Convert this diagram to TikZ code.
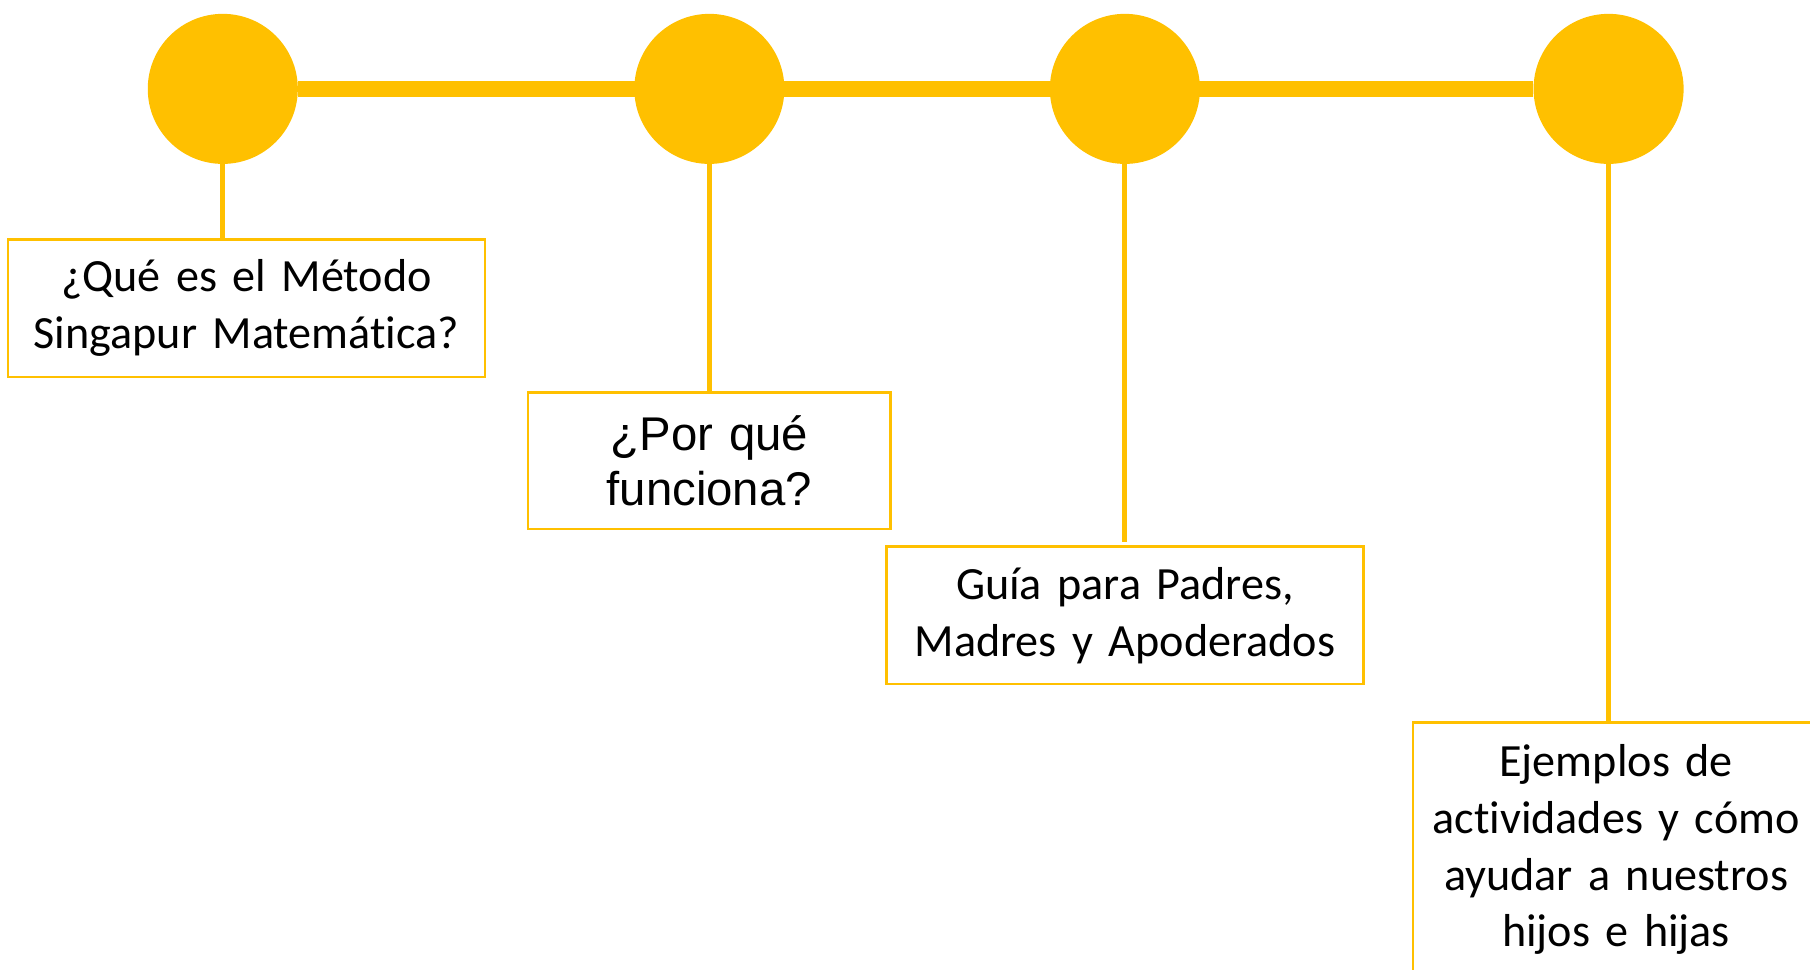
\documentclass[tikz,border=0pt]{standalone}
\usepackage{fontspec}
\setmainfont{Carlito}[Ligatures=NoCommon]
\newfontfamily\arialfont{Liberation Sans}
\usepackage{tikz}
\usetikzlibrary{positioning}
\definecolor{gold}{RGB}{255,192,0}

\begin{document}
\begin{tikzpicture}[x=0.5pt, y=-0.5pt,
    dot/.style={circle, fill=gold, minimum size=65pt, inner sep=0pt},
    topicbox/.style={rectangle, draw=gold, line width=1.15pt, fill=white, align=center, inner sep=0pt,
        font=\fontsize{20}{24.6}\selectfont},
    timeline/.style={gold, line width=7pt},
    stem/.style={gold, line width=2.2pt}]
				\useasboundingbox (0,0) rectangle (1568,840);
				\node[dot] (c1) at (193,77) {};
				\node[dot] (c2) at (614.5,77) {};
				\node[dot] (c3) at (974.5,77) {};
				\node[dot] (c4) at (1393.5,77) {};
				\node[topicbox, text width=206.5pt, minimum height=59.5pt, below=32pt of c1, xshift=10.25pt] (metodo) {¿Qué es el Método\\Singapur Matemática?};
				\node[topicbox, text width=157pt, minimum height=59pt, below=98.3pt of c2,
				      font=\arialfont\fontsize{20.5}{23.5}\selectfont] (porque) {¿Por qué\\funciona?};
				\node[topicbox, text width=206.5pt, minimum height=59.5pt, below=165pt of c3] (guia) {Guía para Padres,\\Madres y Apoderados};
				\node[topicbox, text width=176pt, minimum height=110pt, below=241.25pt of c4, xshift=3.25pt] (ejemplos) {Ejemplos de\\actividades y cómo\\ayudar a nuestros\\hijos e hijas};
				\draw[timeline] (c1) -- (c4);
				\draw[stem] (c1) -- (c1 |- metodo.north);
				\draw[stem] (c2) -- (c2 |- porque.north);
				\draw[stem, shorten >=1.5pt] (c3) -- (c3 |- guia.north);
				\draw[stem] (c4) -- (c4 |- ejemplos.north);
			\end{tikzpicture}
\end{document}
